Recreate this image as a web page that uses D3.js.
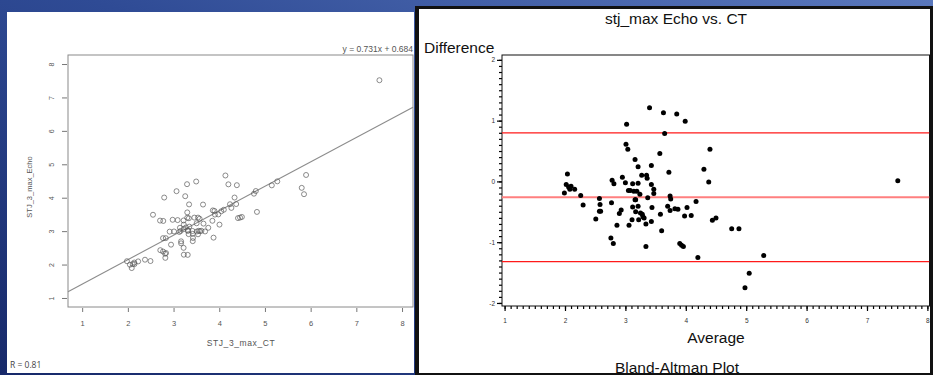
<!DOCTYPE html>
<html>
<head>
    <title>STJ max Echo vs CT</title>
    <script src="https://d3js.org/d3.v7.min.js"></script>
    <style>
        body { margin: 0; background: #1c2f6c; }
        svg { display: block; font-family: "Liberation Sans", Arial, sans-serif; }
    </style>
</head>
<body>
    <svg id="chart" width="933" height="375"></svg>

    <script>
        // Bland-Altman points: average and difference (echo - CT)
        const avgValues = [
            1.99, 2.04, 2.02, 2.06, 2.08, 2.10, 2.16, 2.26, 2.30, 2.51,
            2.57, 2.58, 2.57, 2.59, 2.77, 2.76, 2.80, 2.78, 2.81, 2.86,
            2.90, 2.93, 2.95, 3.00, 3.02, 3.01, 3.04, 3.05, 3.08, 3.06,
            3.11, 3.12, 3.12, 3.14, 3.16, 3.17, 3.16, 3.17, 3.19, 3.21,
            3.21, 3.21, 3.22, 3.24, 3.25, 3.27, 3.28, 3.29, 3.31, 3.34,
            3.34, 3.35, 3.36, 3.37, 3.40, 3.43, 3.43, 3.44, 3.43, 3.47,
            3.47, 3.57, 3.58, 3.60, 3.63, 3.65, 3.72, 3.70, 3.74, 3.75,
            3.74, 3.82, 3.85, 3.87, 3.90, 3.93, 3.96, 3.99, 3.98, 4.02,
            4.09, 4.17, 4.20, 4.30, 4.38, 4.40, 4.44, 4.50, 4.76, 4.88,
            4.98, 5.05, 5.29, 7.51
        ];
        const diffValues = [
            -0.19, 0.12, -0.05, -0.09, -0.13, -0.08, -0.13, -0.23, -0.39, -0.62,
            -0.28, -0.38, -0.49, -0.49, -0.35, -0.93, -1.02, 0.02, -0.04, -0.72,
            -0.53, -0.47, 0.07, -0.02, 0.94, 0.61, 0.53, -0.15, -0.15, -0.72,
            -0.63, -0.42, -0.04, -0.16, -0.30, -0.30, 0.36, -0.50, -0.16, 0.24,
            -0.03, -0.41, -0.63, -0.21, -0.52, 0.10, -0.54, -0.58, -0.60, -0.70,
            -1.07, 0.10, 0.05, -0.27, 1.21, 0.26, -0.05, -0.43, -0.66, -0.13,
            -0.20, 0.46, -0.54, -0.81, 1.13, 0.79, 0.15, -0.41, -0.24, -0.29,
            -0.48, -0.45, 1.11, -0.46, -1.02, -1.05, -1.07, 0.99, -0.57, -0.43,
            -0.56, -0.33, -1.25, 0.20, -0.01, 0.53, -0.64, -0.60, -0.78, -0.78,
            -1.75, -1.51, -1.22, 0.01
        ];
        // mean difference and limits of agreement
        const limitValues = [0.80, -0.26, -1.32];
        const regSlope = 0.731;
        const regIntercept = 0.684;
        const scatterTicks = [1, 2, 3, 4, 5, 6, 7, 8];
        const baXTicks = [1, 2, 3, 4, 5, 6, 7, 8];
        const baYTicks = [-2, -1, 0, 1, 2];

        // each subject: CT and Echo recovered from average/difference
        const points = avgValues.map((a, i) => ({
            avg: a,
            diff: diffValues[i],
            ct: a - diffValues[i] / 2,
            echo: a + diffValues[i] / 2
        }));

        const plainNum = d => String(d); // hyphen minus, not the unicode one

        const svg = d3.select("#chart");

        const defs = svg.append("defs");
        const grad = defs.append("linearGradient")
            .attr("id", "bg")
            .attr("x1", "0%").attr("y1", "100%")
            .attr("x2", "100%").attr("y2", "0%");
        grad.append("stop").attr("offset", "0%").attr("stop-color", "#17296a");
        grad.append("stop").attr("offset", "55%").attr("stop-color", "#2f4b95");
        grad.append("stop").attr("offset", "100%").attr("stop-color", "#5a78bd");

        svg.append("rect")
            .attr("width", 933).attr("height", 375)
            .attr("fill", "url(#bg)");

        // ---------- left panel: scatter with regression ----------
        svg.append("rect")
            .attr("x", 7).attr("y", 12)
            .attr("width", 407).attr("height", 361)
            .attr("fill", "#ffffff");

        const sc = { left: 68, right: 413, top: 55, bottom: 307 };

        const ctScale = d3.scaleLinear()
            .domain([0.69, 8.24])
            .range([sc.left, sc.right]);

        const echoScale = d3.scaleLinear()
            .domain([0.73, 8.27])
            .range([sc.bottom, sc.top]);

        svg.append("rect")
            .attr("x", sc.left).attr("y", sc.top)
            .attr("width", sc.right - sc.left).attr("height", sc.bottom - sc.top)
            .attr("fill", "none")
            .attr("stroke", "#8a8a8a")
            .attr("stroke-width", 1);

        const leftY = svg.append("g")
            .attr("transform", `translate(${sc.left - 1},0)`)
            .call(d3.axisLeft(echoScale).tickValues(scatterTicks).tickSize(5).tickFormat(plainNum));
        leftY.select(".domain").remove();
        leftY.selectAll("line").attr("stroke", "#777");
        leftY.selectAll("text")
            .attr("x", 0).attr("dy", 0)
            .attr("transform", "translate(-13.5,0) rotate(-90)")
            .attr("text-anchor", "middle")
            .attr("font-size", 7)
            .attr("fill", "#555");

        const leftX = svg.append("g")
            .attr("transform", `translate(0,${sc.bottom + 1})`)
            .call(d3.axisBottom(ctScale).tickValues(scatterTicks).tickSize(4).tickPadding(9).tickFormat(plainNum));
        leftX.select(".domain").remove();
        leftX.selectAll("line").attr("stroke", "#777");
        leftX.selectAll("text")
            .attr("font-size", 7.5)
            .attr("fill", "#555");

        const x0 = ctScale.domain()[0];
        const x1 = ctScale.domain()[1];
        svg.append("line")
            .attr("x1", ctScale(x0))
            .attr("y1", echoScale(regSlope * x0 + regIntercept))
            .attr("x2", ctScale(x1))
            .attr("y2", echoScale(regSlope * x1 + regIntercept))
            .attr("stroke", "#8c8c8c")
            .attr("stroke-width", 1.1);

        svg.append("g")
            .selectAll("circle")
            .data(points)
            .join("circle")
            .attr("cx", d => ctScale(d.ct))
            .attr("cy", d => echoScale(d.echo))
            .attr("r", 2.5)
            .attr("fill", "none")
            .attr("stroke", "#5a5a5a")
            .attr("stroke-width", 0.7);

        svg.append("text")
            .attr("x", 413).attr("y", 52)
            .attr("text-anchor", "end")
            .attr("font-size", 8.5)
            .attr("fill", "#555")
            .text(`y = ${regSlope}x + ${regIntercept}`);

        svg.append("text")
            .attr("x", 241).attr("y", 346)
            .attr("text-anchor", "middle")
            .attr("font-size", 8.5)
            .attr("letter-spacing", 0.6)
            .attr("fill", "#555")
            .text("STJ_3_max_CT");

        svg.append("text")
            .attr("transform", "translate(31.5,187) rotate(-90)")
            .attr("text-anchor", "middle")
            .attr("font-size", 7.5)
            .attr("fill", "#555")
            .text("STJ_3_max_Echo");

        svg.append("text")
            .attr("x", 10).attr("y", 368)
            .attr("font-family", "'Open Sans', sans-serif")
            .attr("font-size", 8.5)
            .attr("fill", "#444")
            .text("R = 0.81");

        // ---------- right panel: Bland-Altman ----------
        svg.append("rect")
            .attr("x", 415).attr("y", 6)
            .attr("width", 518).attr("height", 369)
            .attr("fill", "#111");
        svg.append("rect")
            .attr("x", 419).attr("y", 9)
            .attr("width", 511).attr("height", 364)
            .attr("fill", "#ffffff");

        const ba = { left: 502, right: 929.5, top: 55, bottom: 306 };

        const avgScale = d3.scaleLinear()
            .domain([0.957, 8.035])
            .range([ba.left, ba.right]);

        const diffScale = d3.scaleLinear()
            .domain([-2.05, 2.08])
            .range([ba.bottom, ba.top]);

        const clip = defs.append("clipPath").attr("id", "baClip");
        clip.append("rect")
            .attr("x", ba.left).attr("y", ba.top)
            .attr("width", ba.right - ba.left).attr("height", ba.bottom - ba.top);

        // minor ticks every 0.1
        const minorX = d3.range(10, 81).map(v => v / 10);
        const minorY = d3.range(-20, 21).map(v => v / 10);

        const minX = svg.append("g")
            .attr("transform", `translate(0,${ba.bottom})`)
            .call(d3.axisBottom(avgScale).tickValues(minorX).tickSize(3).tickFormat(""));
        minX.select(".domain").remove();
        minX.selectAll("line").attr("stroke", "#000").attr("stroke-width", 1.2);

        const minY = svg.append("g")
            .attr("transform", `translate(${ba.left},0)`)
            .call(d3.axisLeft(diffScale).tickValues(minorY).tickSize(3).tickFormat(""));
        minY.select(".domain").remove();
        minY.selectAll("line").attr("stroke", "#000").attr("stroke-width", 1.2);

        const baX = svg.append("g")
            .attr("transform", `translate(0,${ba.bottom})`)
            .call(d3.axisBottom(avgScale).tickValues(baXTicks).tickSize(5).tickPadding(7).tickFormat(plainNum));
        baX.select(".domain").remove();
        baX.selectAll("line").attr("stroke", "#000").attr("stroke-width", 1.2);
        baX.selectAll("text").attr("font-size", 6.5).attr("fill", "#333");

        const baY = svg.append("g")
            .attr("transform", `translate(${ba.left},0)`)
            .call(d3.axisLeft(diffScale).tickValues(baYTicks).tickSize(5).tickPadding(2).tickFormat(plainNum));
        baY.select(".domain").remove();
        baY.selectAll("line").attr("stroke", "#000").attr("stroke-width", 1.2);
        baY.selectAll("text").attr("font-size", 6.5).attr("fill", "#333");

        svg.append("rect")
            .attr("x", ba.left).attr("y", ba.top)
            .attr("width", ba.right - ba.left).attr("height", ba.bottom - ba.top)
            .attr("fill", "none")
            .attr("stroke", "#111")
            .attr("stroke-width", 1);

        svg.append("g")
            .attr("clip-path", "url(#baClip)")
            .selectAll("line")
            .data(limitValues)
            .join("line")
            .attr("x1", ba.left)
            .attr("x2", ba.right)
            .attr("y1", d => diffScale(d))
            .attr("y2", d => diffScale(d))
            .attr("stroke", (d, i) => i === 1 ? "#ff7f7f" : "#ff1a1a")
            .attr("stroke-width", (d, i) => i === 1 ? 2 : 1.3);

        svg.append("g")
            .selectAll("circle")
            .data(points)
            .join("circle")
            .attr("cx", d => avgScale(d.avg))
            .attr("cy", d => diffScale(d.diff))
            .attr("r", 2.5)
            .attr("fill", "#000");

        svg.append("text")
            .attr("x", 676).attr("y", 24)
            .attr("text-anchor", "middle")
            .attr("font-size", 15.5)
            .attr("fill", "#111")
            .text("stj_max Echo vs. CT");

        svg.append("text")
            .attr("x", 424).attr("y", 53)
            .attr("font-size", 15.5)
            .attr("fill", "#111")
            .text("Difference");

        svg.append("text")
            .attr("x", 716).attr("y", 343)
            .attr("text-anchor", "middle")
            .attr("font-size", 15.5)
            .attr("fill", "#111")
            .text("Average");

        svg.append("text")
            .attr("x", 677).attr("y", 372.5)
            .attr("text-anchor", "middle")
            .attr("font-size", 15.5)
            .attr("fill", "#111")
            .text("Bland-Altman Plot");

        // bottom edge of the right frame sits over the cut-off caption
        svg.append("rect")
            .attr("x", 415).attr("y", 373)
            .attr("width", 518).attr("height", 2)
            .attr("fill", "#111");
    </script>
</body>
</html>
